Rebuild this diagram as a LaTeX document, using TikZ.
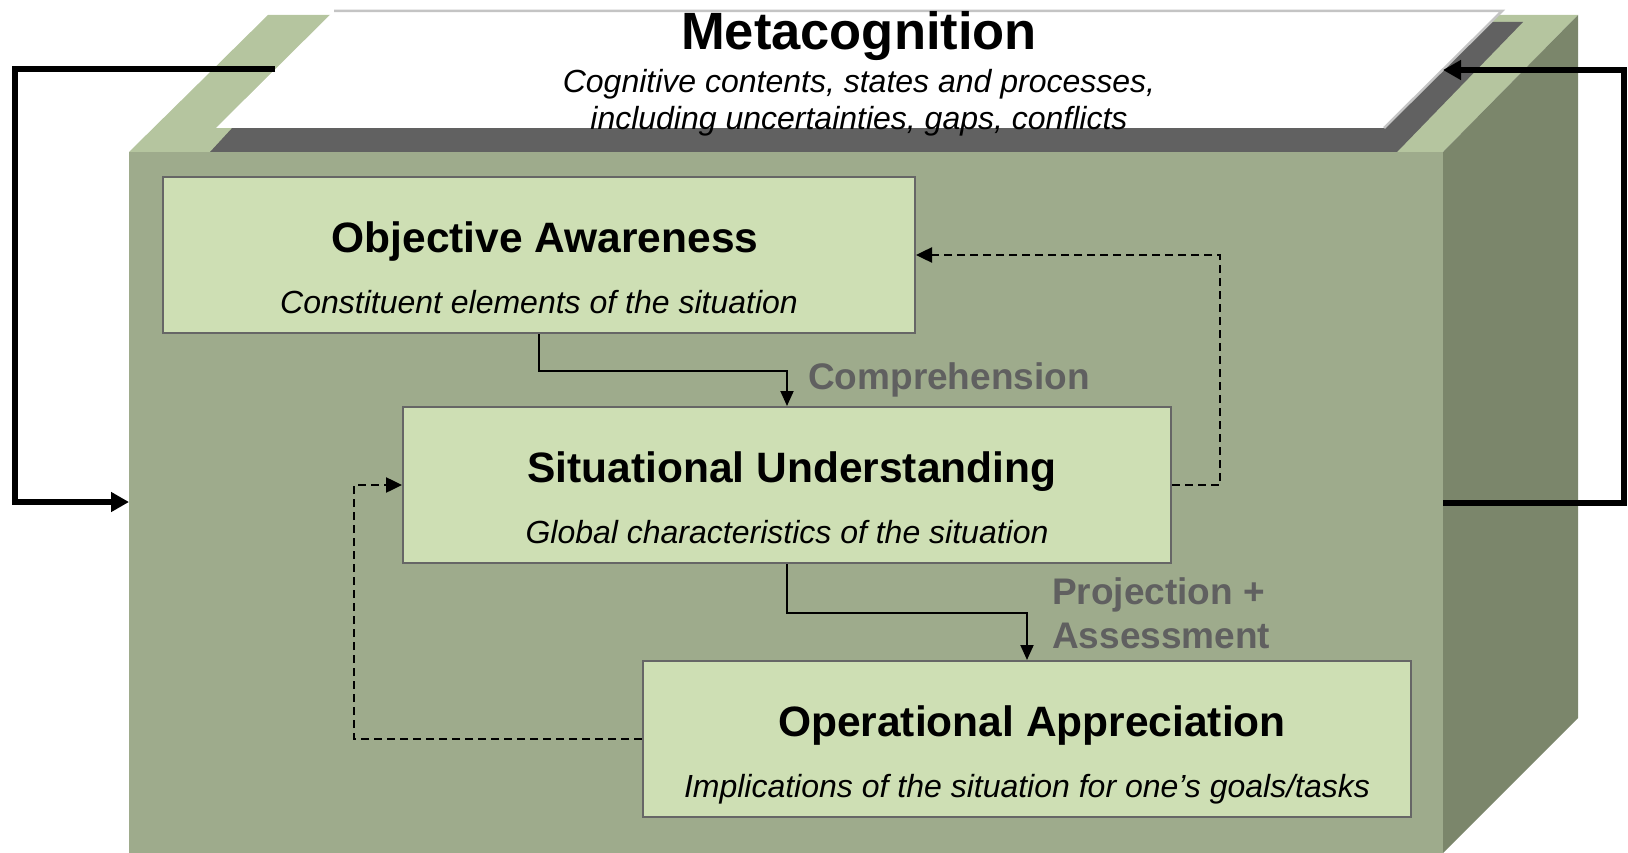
\documentclass[tikz,border=0pt]{standalone}
\usepackage{fontspec}
\setmainfont{Liberation Sans}
\usetikzlibrary{arrows.meta}

\definecolor{topface}{HTML}{B5C59F}
\definecolor{frontface}{HTML}{9EAB8C}
\definecolor{sideface}{HTML}{7B866B}
\definecolor{trayshade}{HTML}{616161}
\definecolor{sheetline}{HTML}{C4C4C4}
\definecolor{boxfill}{HTML}{CEDFB4}
\definecolor{boxline}{HTML}{666666}
\definecolor{labelgray}{HTML}{606060}

\begin{document}
\begin{tikzpicture}[x=1pt,y=-1pt,
    stage/.style={draw=boxline,line width=2pt,fill=boxfill,minimum width=768pt,minimum height=156pt,inner sep=0pt},
    heading/.style={anchor=base,inner sep=0pt,font=\bfseries\fontsize{42.5}{48}\selectfont},
    gloss/.style={anchor=base,inner sep=0pt,font=\itshape\fontsize{32}{38}\selectfont},
    steplabel/.style={anchor=base west,inner sep=0pt,text=labelgray,font=\bfseries\fontsize{37}{44}\selectfont},
    fwd/.style={line width=2pt,-{Triangle[length=15pt,width=13pt]}},
    bwd/.style={line width=2.5pt,dash pattern=on 8pt off 5pt,-{Triangle[length=16pt,width=15pt]}},
    metaarrow/.style={line width=5.5pt,-{Triangle[length=18pt,width=19pt]}}]
    \useasboundingbox (0,0) rectangle (1628,853);

    % the block
    \fill[topface] (129,152) -- (268,15) -- (1578,15) -- (1443,152) -- cycle;
    \fill[sideface] (1443,152) -- (1578,15) -- (1578,718) -- (1443,853) -- cycle;
    \fill[frontface] (129,152) rectangle (1443,853);
    \fill[trayshade] (210,152) -- (330,22) -- (1523,22) -- (1397,152) -- cycle;

    % metacognition sheet
    \fill[white] (334,11) -- (1502,11) -- (1384,128) -- (216,128) -- cycle;
    \draw[sheetline,line width=2.5pt] (334,11) -- (1502,11) -- (1384,128);
    \node[anchor=base,inner sep=0pt,font=\bfseries\fontsize{52.5}{60}\selectfont] (meta) at (859,50) {Metacognition};
    \node[gloss] (meta1) at (859,93) {Cognitive contents, states and processes,};
    \node[gloss] (meta2) at (859,130) {including uncertainties, gaps, conflicts};

    % the three stages
    \node[stage,minimum width=752pt] (oa) at (539,255) {};
    \node[stage] (su) at (787,485) {};
    \node[stage] (opp) at (1027,739) {};

    \node[heading] (oa-title) at (545,252) {Objective Awareness};
    \node[gloss] (oa-sub) at (539,313) {Constituent elements of the situation};
    \node[heading] (su-title) at (792,482) {Situational Understanding};
    \node[gloss] (su-sub) at (787,543) {Global characteristics of the situation};
    \node[heading] (opp-title) at (1032,736) {Operational Appreciation};
    \node[gloss] (opp-sub) at (1027,797) {Implications of the situation for one’s goals/tasks};

    \node[steplabel] (compr) at (808,389) {Comprehension};
    \node[steplabel] (proj) at (1052,604) {Projection +};
    \node[steplabel] (assess) at (1052,648) {Assessment};

    % forward and backward links
    \draw[fwd] (oa.south) -- ++(0,37) -| (su.north);
    \draw[fwd] (su.south) -- ++(0,49) -| (opp.north);
    \draw[bwd] (su.east) -- ++(48,0) |- (oa.east);
    \draw[bwd] (opp.west) -- ++(-288,0) |- (su.west);

    % metacognitive loop
    \coordinate (sheet-l) at (275,69);
    \coordinate (block-l) at (129,502);
    \coordinate (block-r) at (1443,503);
    \coordinate (sheet-r) at (1443,70);
    \draw[metaarrow] (sheet-l) -- ++(-260,0) |- (block-l);
    \draw[metaarrow] (block-r) -- ++(181,0) |- (sheet-r);
\end{tikzpicture}
\end{document}
